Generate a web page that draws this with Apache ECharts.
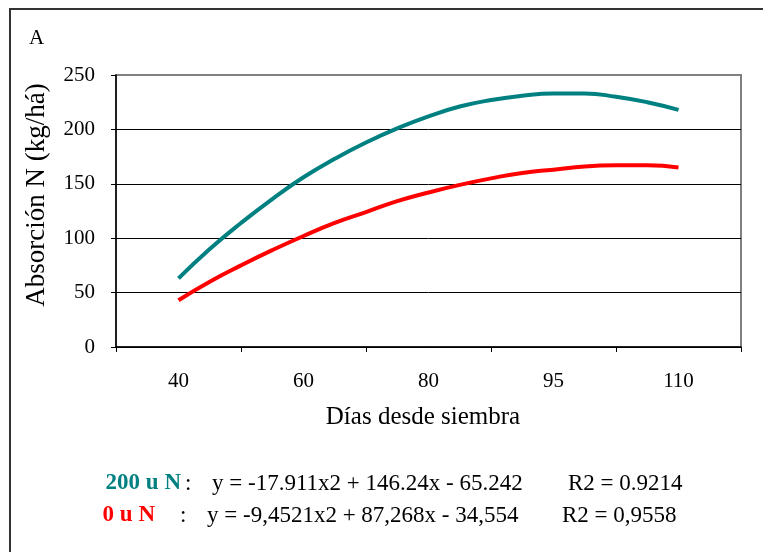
<!DOCTYPE html>
<html>
<head>
<meta charset="utf-8">
<script src="https://cdn.jsdelivr.net/npm/echarts@6/dist/echarts.min.js"></script>
<style>
html,body{margin:0;padding:0;background:#fff;}
#c{width:763px;height:552px;}
</style>
</head>
<body>
<div id="c"></div>
<script>
// Category labels of the x axis (days after sowing)
var categories = ['40', '60', '80', '95', '110'];
// Y axis ticks
var yTicks = [0, 50, 100, 150, 200, 250];
// Positions along the category axis (1 = "40", 5 = "110") where curves were read
var curvePos = [1, 1.25, 1.5, 1.75, 2, 2.25, 2.5, 2.75, 3, 3.25, 3.5, 3.75, 4, 4.25, 4.5, 4.75, 5];
// 200 u N (teal curve)
var n200 = [63, 90, 114, 136, 156, 173, 188, 201, 212, 221, 227, 231, 233, 233, 230, 225, 218];
// 0 u N (red curve)
var n0 = [43, 60, 75, 89, 102, 114, 124, 134, 142, 149, 155, 160, 163, 166, 167, 167, 165];

function pairs(xs, ys) {
  var out = [];
  for (var i = 0; i < xs.length; i++) out.push([xs[i], ys[i]]);
  return out;
}

var FONT = '"Liberation Serif", "Times New Roman", serif';
var chart = echarts.init(document.getElementById('c'), null, {renderer: 'canvas'});

chart.setOption({
  animation: false,
  backgroundColor: '#fff',
  textStyle: {fontFamily: FONT, color: '#000'},
  grid: {left: 116, right: 22, top: 75, bottom: 205, show: true, borderColor: '#808080', borderWidth: 2},
  xAxis: [{
    type: 'category',
    data: categories,
    boundaryGap: true,
    axisLine: {lineStyle: {color: '#000', width: 1.5}},
    axisTick: {show: true, length: 5, inside: false, lineStyle: {color: '#000'}},
    axisLabel: {fontFamily: FONT, fontSize: 21, color: '#000', margin: 24},
    splitLine: {show: false}
  }, {
    type: 'value',
    min: 0.5,
    max: 5.5,
    show: false
  }],
  yAxis: {
    type: 'value',
    min: yTicks[0],
    max: yTicks[yTicks.length - 1],
    interval: 50,
    axisLine: {show: true, lineStyle: {color: '#000', width: 1.5}},
    axisTick: {show: true, length: 5, inside: false, lineStyle: {color: '#000'}},
    axisLabel: {fontFamily: FONT, fontSize: 21, color: '#000', margin: 21},
    splitLine: {show: true, lineStyle: {color: ['#000', '#000', '#000', '#000', '#000', '#808080'], width: 1}}
  },
  series: [{
    name: '200 u N',
    type: 'line',
    xAxisIndex: 1,
    data: pairs(curvePos, n200),
    smooth: true,
    showSymbol: false,
    lineStyle: {color: '#008080', width: 4},
    itemStyle: {color: '#008080'}
  }, {
    name: '0 u N',
    type: 'line',
    xAxisIndex: 1,
    data: pairs(curvePos, n0),
    smooth: true,
    showSymbol: false,
    lineStyle: {color: '#ff0000', width: 4},
    itemStyle: {color: '#ff0000'}
  }],
  graphic: [
    {type: 'rect', shape: {x: 10, y: 9, width: 800, height: 600}, style: {fill: 'none', stroke: '#333', lineWidth: 2}, silent: true},
    {type: 'text', left: 29, top: 28, style: {text: 'A', font: '21px ' + FONT, fill: '#000'}},
    {type: 'text', x: 37, y: 195, rotation: Math.PI / 2, style: {text: 'Absorción N (kg/há)', font: '27px ' + FONT, fill: '#000', textAlign: 'center', textVerticalAlign: 'middle'}},
    {type: 'text', x: 423, y: 417, style: {text: 'Días desde siembra', font: '25px ' + FONT, fill: '#000', textAlign: 'center', textVerticalAlign: 'middle'}},
    {type: 'text', x: 181, y: 495, style: {text: '200 u N', font: 'bold 23px ' + FONT, fill: '#008080', textAlign: 'right', textVerticalAlign: 'bottom'}},
    {type: 'text', x: 185, y: 495, style: {text: ':', font: '23px ' + FONT, fill: '#000', textVerticalAlign: 'bottom'}},
    {type: 'text', x: 212, y: 495, style: {text: 'y = -17.911x2 + 146.24x - 65.242', font: '23px ' + FONT, fill: '#000', textVerticalAlign: 'bottom'}},
    {type: 'text', x: 568, y: 495, style: {text: 'R2 = 0.9214', font: '23px ' + FONT, fill: '#000', textVerticalAlign: 'bottom'}},
    {type: 'text', x: 155, y: 527, style: {text: '0 u N', font: 'bold 23px ' + FONT, fill: '#ff0000', textAlign: 'right', textVerticalAlign: 'bottom'}},
    {type: 'text', x: 180, y: 527, style: {text: ':', font: '23px ' + FONT, fill: '#000', textVerticalAlign: 'bottom'}},
    {type: 'text', x: 207, y: 527, style: {text: 'y = -9,4521x2 + 87,268x - 34,554', font: '23px ' + FONT, fill: '#000', textVerticalAlign: 'bottom'}},
    {type: 'text', x: 562, y: 527, style: {text: 'R2 = 0,9558', font: '23px ' + FONT, fill: '#000', textVerticalAlign: 'bottom'}}
  ]
});
</script>
</body>
</html>
